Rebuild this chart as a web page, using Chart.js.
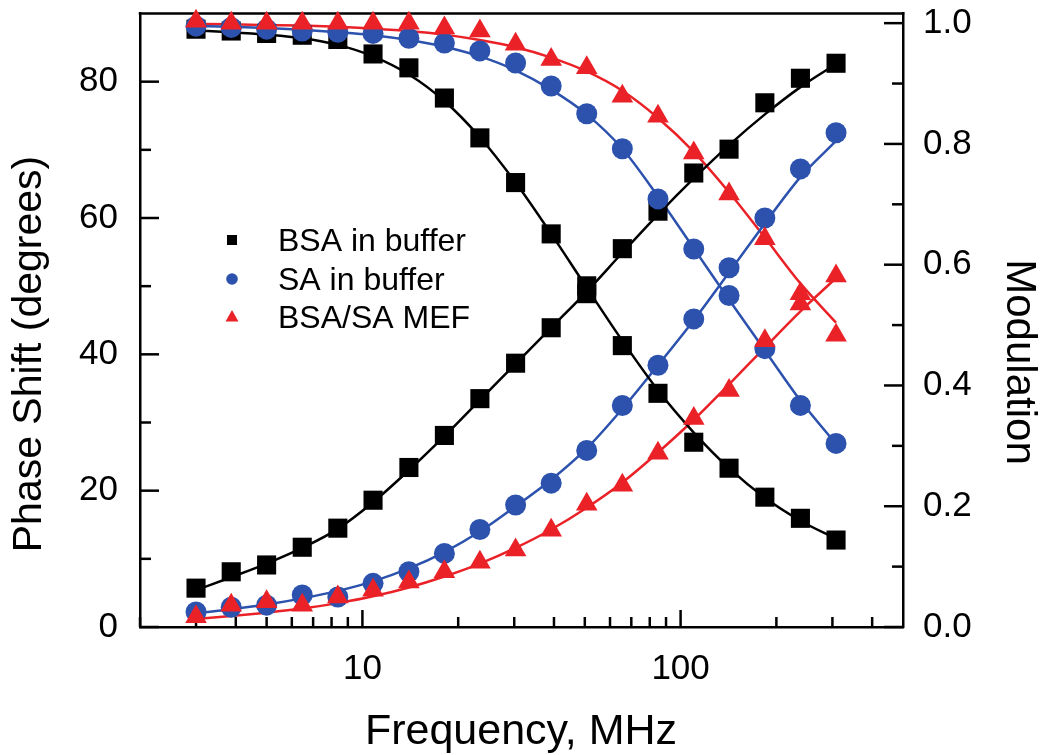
<!DOCTYPE html>
<html>
<head>
<meta charset="utf-8">
<script src="https://cdn.jsdelivr.net/npm/chart.js@4"></script>
<style>
  html, body { margin: 0; padding: 0; background: #fff; }
</style>
</head>
<body>
<canvas id="chartCanvas" width="1050" height="755"></canvas>
<script>
// modulation frequencies, MHz
const freq = [3, 3.87, 5, 6.47, 8.37, 10.8, 14, 18.1, 23.4, 30.3, 39.2, 50.7, 65.6, 84.9, 110, 142, 184, 238, 308];

// measured points (phase in degrees, modulation 0..1)
const bsaPhase = [5.7, 8.1, 9.1, 11.7, 14.5, 18.6, 23.4, 28.1, 33.5, 38.7, 43.9, 48.9, 55.5, 61.0, 66.6, 70.1, 76.9, 80.5, 82.7];
const bsaMod = [0.99, 0.987, 0.983, 0.98, 0.973, 0.949, 0.926, 0.876, 0.81, 0.736, 0.651, 0.565, 0.466, 0.387, 0.306, 0.263, 0.215, 0.18, 0.144];
const saPhase = [2.2, 2.9, 3.2, 4.7, 4.4, 6.4, 8.1, 10.8, 14.3, 17.9, 21.1, 25.9, 32.5, 38.4, 45.2, 52.7, 60.0, 67.2, 72.5];
const saMod = [0.995, 0.993, 0.99, 0.987, 0.985, 0.983, 0.975, 0.967, 0.954, 0.934, 0.896, 0.85, 0.792, 0.709, 0.626, 0.549, 0.461, 0.367, 0.304];
const mefPhase = [1.5, 3.2, 3.7, 3.2, 4.4, 5.4, 6.6, 8.1, 9.5, 11.3, 14.2, 18.0, 20.8, 25.5, 30.6, 34.7, 42.0, 47.4, 51.5];
const mefMod = [1.003, 1.0, 1.0, 1.0, 1.0, 1.0, 1.0, 0.992, 0.987, 0.965, 0.94, 0.926, 0.879, 0.846, 0.785, 0.717, 0.643, 0.552, 0.483];

// fitted curves at the same frequencies
const bsaPhaseFit = [5.4, 7.3, 9.3, 11.6, 14.4, 18.3, 23.0, 28.0, 33.3, 38.6, 43.9, 49.2, 54.9, 60.5, 65.8, 70.7, 75.2, 79.2, 82.6];
const bsaModFit = [0.988, 0.985, 0.981, 0.975, 0.964, 0.945, 0.915, 0.871, 0.811, 0.736, 0.651, 0.562, 0.474, 0.392, 0.322, 0.263, 0.214, 0.176, 0.146];
const saPhaseFit = [2.0, 2.6, 3.3, 4.2, 5.3, 6.7, 8.6, 11.0, 14.0, 17.7, 21.6, 26.2, 32.0, 38.4, 45.0, 52.0, 59.2, 66.0, 71.3];
const saModFit = [0.995, 0.994, 0.992, 0.989, 0.985, 0.98, 0.972, 0.961, 0.945, 0.922, 0.89, 0.849, 0.792, 0.713, 0.627, 0.542, 0.458, 0.375, 0.303];
const mefPhaseFit = [1.2, 1.6, 2.1, 2.7, 3.5, 4.5, 5.8, 7.4, 9.3, 11.6, 14.3, 17.5, 21.2, 25.6, 30.4, 35.6, 41.0, 46.3, 51.2];
const mefModFit = [0.999, 0.998, 0.997, 0.996, 0.994, 0.991, 0.987, 0.981, 0.972, 0.96, 0.943, 0.92, 0.888, 0.843, 0.787, 0.72, 0.645, 0.569, 0.504];

// axes
const freqTicks = [10, 100];
const freqMinor = [2, 3, 4, 5, 6, 7, 8, 9, 20, 30, 40, 50, 60, 70, 80, 90, 200, 300, 400];
const phaseTicks = [0, 20, 40, 60, 80];
const phaseMinor = [10, 30, 50, 70];
const modTicks = [0, 0.2, 0.4, 0.6, 0.8, 1.0];
const modMinor = [0.1, 0.3, 0.5, 0.7, 0.9];

const seriesNames = ['BSA in buffer', 'SA in buffer', 'BSA/SA MEF'];

const BLACK = '#000000', BLUE = '#2c52ae', RED = '#ea2228';
const FONT = '"Liberation Sans", Arial, Helvetica, sans-serif';

const pts = vals => freq.map((f, i) => ({ x: f, y: vals[i] }));

function fitLine(vals, axis, color) {
    return {
        data: pts(vals), yAxisID: axis, borderColor: color, borderWidth: 2.5,
        pointRadius: 0, fill: false, cubicInterpolationMode: 'monotone', order: 10
    };
}
function marks(vals, axis, color, style, r, order) {
    return {
        data: pts(vals), yAxisID: axis, showLine: false, pointStyle: style, pointRadius: r,
        pointBackgroundColor: color, pointBorderWidth: 0, pointBorderColor: color,
        clip: false, order: order
    };
}

const datasets = [
    fitLine(bsaPhaseFit, 'y', BLACK), fitLine(bsaModFit, 'y2', BLACK),
    fitLine(saPhaseFit, 'y', BLUE), fitLine(saModFit, 'y2', BLUE),
    fitLine(mefPhaseFit, 'y', RED), fitLine(mefModFit, 'y2', RED),
    marks(bsaPhase, 'y', BLACK, 'rect', 13.5, 3), marks(bsaMod, 'y2', BLACK, 'rect', 13.5, 3),
    marks(saPhase, 'y', BLUE, 'circle', 10.5, 2), marks(saMod, 'y2', BLUE, 'circle', 10.5, 2),
    marks(mefPhase, 'y', RED, 'triangle', 12.5, 1), marks(mefMod, 'y2', RED, 'triangle', 12.5, 1)
];

// inward ticks, top frame line, legend and axis titles
const frame = {
    id: 'frame',
    beforeDatasetsDraw(chart) {
        const { ctx, chartArea: a, scales } = chart;
        ctx.save();
        ctx.strokeStyle = '#000';
        ctx.lineWidth = 2.5;
        const seg = (x1, y1, x2, y2) => { ctx.beginPath(); ctx.moveTo(x1, y1); ctx.lineTo(x2, y2); ctx.stroke(); };
        phaseTicks.forEach(v => { const y = scales.y.getPixelForValue(v); seg(a.left, y, a.left + 19, y); });
        phaseMinor.forEach(v => { const y = scales.y.getPixelForValue(v); seg(a.left, y, a.left + 11, y); });
        modTicks.forEach(v => { const y = scales.y2.getPixelForValue(v); seg(a.right, y, a.right - 19, y); });
        modMinor.forEach(v => { const y = scales.y2.getPixelForValue(v); seg(a.right, y, a.right - 11, y); });
        freqTicks.forEach(v => { const x = scales.x.getPixelForValue(v); seg(x, a.bottom, x, a.bottom - 17); });
        freqMinor.forEach(v => { const x = scales.x.getPixelForValue(v); seg(x, a.bottom, x, a.bottom - 10); });
        seg(a.left - 1.25, a.top, a.right + 1.25, a.top);
        ctx.restore();
    },
    afterDraw(chart) {
        const { ctx } = chart;
        ctx.save();
        // legend
        const colors = [BLACK, BLUE, RED];
        const rows = [240, 279, 317];
        ctx.font = '32px ' + FONT;
        ctx.textBaseline = 'alphabetic';
        ctx.textAlign = 'left';
        rows.forEach((y, i) => {
            ctx.fillStyle = colors[i];
            ctx.beginPath();
            if (i === 0) ctx.rect(227, y - 5, 10, 10);
            else if (i === 1) ctx.arc(232, y, 5.8, 0, Math.PI * 2);
            else { ctx.moveTo(232, y - 7); ctx.lineTo(238.5, y + 4.5); ctx.lineTo(225.5, y + 4.5); ctx.closePath(); }
            ctx.fill();
            ctx.fillStyle = '#000';
            ctx.fillText(seriesNames[i], 278, y + 11);
        });
        // axis titles
        ctx.fillStyle = '#000';
        ctx.textAlign = 'center';
        ctx.font = '43px ' + FONT;
        ctx.fillText('Frequency, MHz', 521, 744);
        ctx.font = '41px ' + FONT;
        ctx.save();
        ctx.translate(41, 354);
        ctx.rotate(-Math.PI / 2);
        ctx.fillText('Phase Shift (degrees)', 0, 0);
        ctx.restore();
        ctx.font = '42px ' + FONT;
        ctx.save();
        ctx.translate(1007, 362);
        ctx.rotate(Math.PI / 2);
        ctx.fillText('Modulation', 0, 0);
        ctx.restore();
        ctx.restore();
    }
};

const axisBorder = { display: true, color: '#000', width: 2.5 };
const tickFont = { family: FONT, size: 35 };
const noGrid = { display: false, drawTicks: false };

const ctx = document.getElementById('chartCanvas').getContext('2d');
const chart = new Chart(ctx, {
    type: 'line',
    data: { datasets: datasets },
    options: {
        responsive: false,
        animation: false,
        layout: { padding: { top: 12 } },
        plugins: { legend: { display: false }, tooltip: { enabled: false } },
        scales: {
            x: {
                type: 'logarithmic', position: 'bottom', min: 2, max: 500,
                grid: noGrid, border: axisBorder,
                ticks: { font: tickFont, color: '#000', padding: 21, maxRotation: 0, autoSkip: false, callback: v => String(v) },
                afterBuildTicks: s => { s.ticks = freqTicks.map(v => ({ value: v })); },
                afterFit: s => { s.height = 128; s.paddingLeft = 0; s.paddingRight = 0; }
            },
            y: {
                type: 'linear', position: 'left', min: 0, max: 90,
                grid: noGrid, border: axisBorder,
                ticks: { font: tickFont, color: '#000', padding: 22, callback: v => String(v) },
                afterBuildTicks: s => { s.ticks = phaseTicks.map(v => ({ value: v })); },
                afterFit: s => { s.width = 140; s.paddingTop = 0; s.paddingBottom = 0; }
            },
            y2: {
                type: 'linear', position: 'right', min: 0, max: 1.016,
                grid: noGrid, border: axisBorder,
                ticks: { font: tickFont, color: '#000', padding: 20, callback: v => v.toFixed(1) },
                afterBuildTicks: s => { s.ticks = modTicks.map(v => ({ value: v })); },
                afterFit: s => { s.width = 147; s.paddingTop = 0; s.paddingBottom = 0; }
            }
        }
    },
    plugins: [frame]
});
</script>
</body>
</html>
